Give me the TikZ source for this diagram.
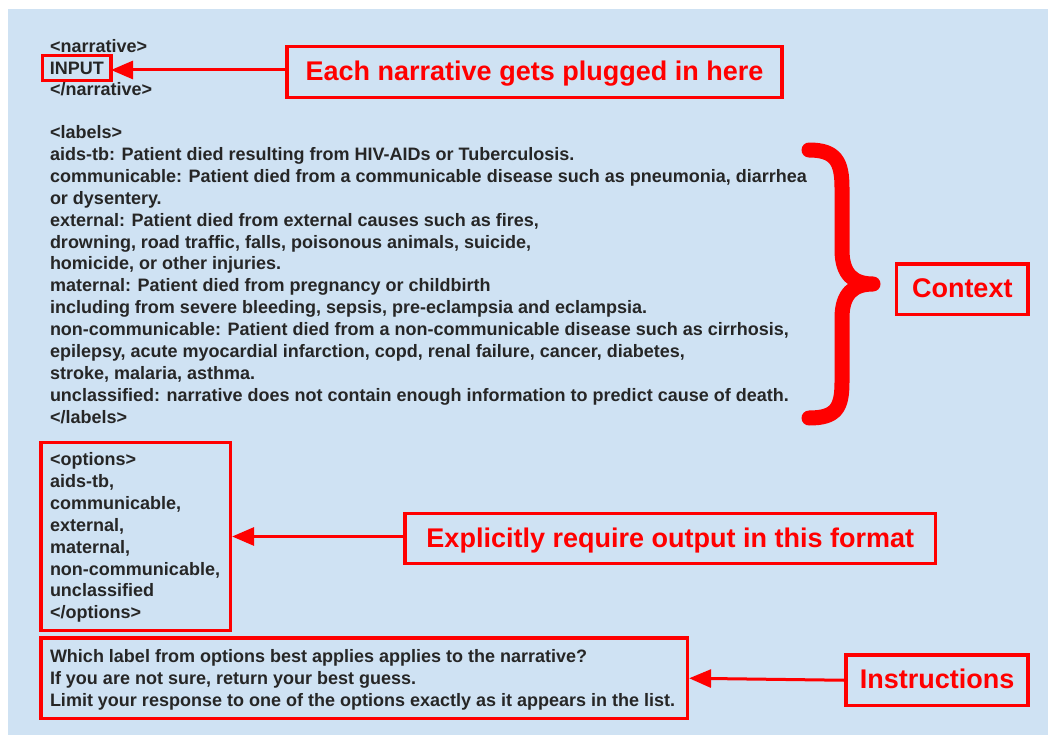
\documentclass[tikz,border=0pt]{standalone}
\usepackage{fontspec}
\setmainfont{Liberation Sans}
\usetikzlibrary{arrows.meta}
\definecolor{bgblue}{HTML}{CFE2F3}
\definecolor{txt}{HTML}{262626}
\definecolor{annot}{HTML}{FF0000}
\begin{document}
\begin{tikzpicture}[x=1pt,y=-1pt,
  body/.style={font=\fontsize{18}{21.9}\selectfont\bfseries, text=txt, inner sep=0pt, outer sep=0pt},
  redbox/.style={draw=annot, line width=3.2pt, inner sep=0pt},
  redlabel/.style={redbox, text=annot, font=\fontsize{27}{32}\selectfont\bfseries, text height=17pt, text depth=0pt},
  pointer/.style={draw=annot, line width=3pt, -{Triangle[length=22pt,width=18pt]}},
  bracestyle/.style={draw=annot, line width=15pt, line cap=round, line join=round}
]
\useasboundingbox (0,0) rectangle (1048,735);
\fill[white] (0,0) rectangle (1048,735);
\fill[bgblue] (8,9.5) rectangle (1048,735);

% narrative
\node[body, anchor=base west] (nar1) at (50,52.5) {<narrative>};
\node[redbox, body, minimum width=68.5pt, minimum height=24.4pt] (inputbox) at (76.75,68) {INPUT};
\node[body, anchor=base west] (nar3) at (50,95.5) {</narrative>};
\node[redlabel, minimum width=495pt, minimum height=51pt] (eachbox) at (534.5,72) {Each narrative gets plugged in here};
\draw[pointer] ([yshift=2pt]eachbox.west) -- ([yshift=2pt]eachbox.west -| inputbox.east);

% labels
\node[body, anchor=north west, align=left] (labels) at (50,123.5) {\rule{0pt}{15pt}<labels>\\
aids-tb: Patient died resulting from HIV-AIDs or Tuberculosis.\\
communicable: Patient died from a communicable disease such as pneumonia, diarrhea\\
or dysentery.\\
external: Patient died from external causes such as fires,\\
drowning, road traffic, falls, poisonous animals, suicide,\\
homicide, or other injuries.\\
maternal: Patient died from pregnancy or childbirth\\
including from severe bleeding, sepsis, pre-eclampsia and eclampsia.\\
non-communicable: Patient died from a non-communicable disease such as cirrhosis,\\
epilepsy, acute myocardial infarction, copd, renal failure, cancer, diabetes,\\
stroke, malaria, asthma.\\
unclassified: narrative does not contain enough information to predict cause of death.\\
</labels>};

% brace
\draw[bracestyle] (809,150) .. controls (836,150) and (842,162) .. (842,188)
  -- (842,250) .. controls (842,274) and (853,284) .. (873,284)
  .. controls (853,284) and (842,294) .. (842,318)
  -- (842,382) .. controls (842,408) and (836,418) .. (809,418);
\node[redlabel, minimum width=131.5pt, minimum height=50.5pt] (context) at (962.25,289.25) {Context};

% options
\node[redbox, minimum width=189.5pt, minimum height=188pt] (optbox) at (135.75,536.5) {};
\node[body, anchor=north west, align=left] (opttext) at (50,450.5) {\rule{0pt}{15pt}<options>\\
aids-tb,\\
communicable,\\
external,\\
maternal,\\
non-communicable,\\
unclassified\\
</options>};
\node[redlabel, minimum width=530.5pt, minimum height=50pt] (explbox) at (670.25,538.5) {Explicitly require output in this format};
\draw[pointer] (explbox.west |- optbox.east) -- (optbox.east);

% instructions
\node[redbox, minimum width=646.5pt, minimum height=80.5pt] (instbox) at (364.25,678.25) {};
\node[body, anchor=north west, align=left] (insttext) at (50,647.2) {\rule{0pt}{15pt}Which label from options best applies applies to the narrative?\\
If you are not sure, return your best guess.\\
Limit your response to one of the options exactly as it appears in the list.};
\node[redlabel, minimum width=182pt, minimum height=50.5pt] (instlabel) at (937,680.25) {Instructions};
\draw[pointer] (instlabel.west) -- (instbox.east);
\end{tikzpicture}
\end{document}
